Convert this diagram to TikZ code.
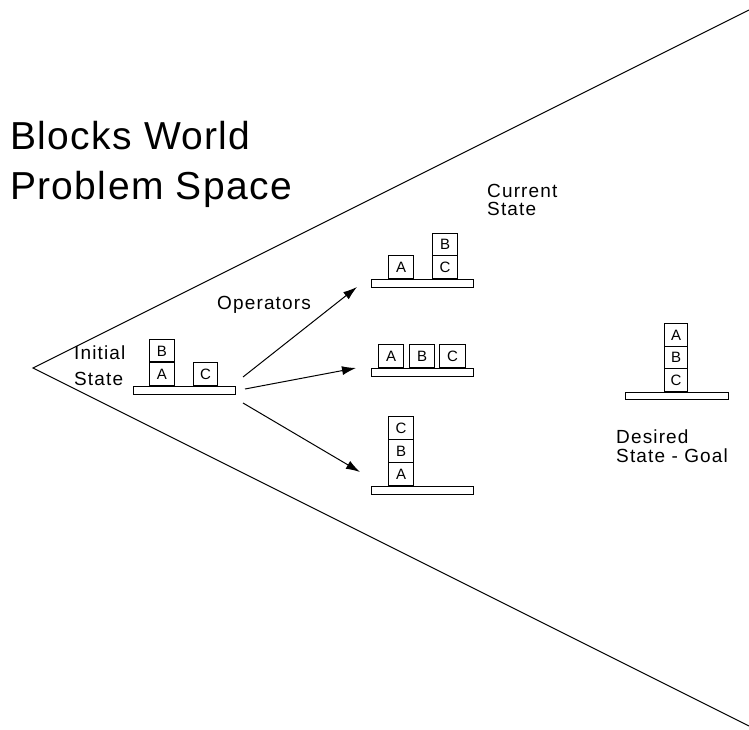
\documentclass[tikz,border=0pt]{standalone}
\usepackage{fontspec}
\setmainfont{Liberation Sans}
\newfontfamily\lblfont[LetterSpace=6]{Liberation Sans}
\newfontfamily\ttlfont[LetterSpace=3.5]{Liberation Sans}
\usetikzlibrary{arrows.meta}
\tikzset{
  x=1pt, y=-1pt,
  edge/.style={line width=1pt},
  blk/.style={draw, line width=1pt, inner sep=0pt, minimum width=25pt, minimum height=23pt, anchor=south west, font=\fontsize{15}{15}\selectfont},
  table/.style={draw, line width=1pt, inner sep=0pt, minimum width=102pt, minimum height=8pt, anchor=north west},
  lbl/.style={anchor=base west, inner sep=0pt, font=\lblfont\fontsize{19}{19}\selectfont},
  ttl/.style={anchor=base west, inner sep=0pt, font=\ttlfont\fontsize{39}{39}\selectfont},
  op/.style={edge, -{Latex[length=14pt,width=9pt]}}
}
\begin{document}
\begin{tikzpicture}
\useasboundingbox (0,0) rectangle (749,730);
% problem space cone
\coordinate (apex) at (33,368);
\coordinate (top) at (749,10);
\coordinate (bot) at (749,726);
\draw[edge] (top) -- (apex) -- (bot);
% title
\node[ttl] (t1) at (10,150) {Blocks World};
\node[ttl] (t2) at (10,200) {Problem Space};
% initial state
\node[table] (t0) at (133,386) {};
\node[blk] (i0a) at (149,386) {A};
\node[blk] (i0b) at (149,363) {B};
\node[blk, minimum width=24pt] (i0c) at (193,386) {C};
\draw[line width=2pt] (i0a.north west) -- (i0a.north east);
\node[lbl] (il1) at (74,359) {Initial};
\node[lbl] (il2) at (74,385) {State};
% operators
\node[lbl] (ops) at (217,309) {Operators};
% top state
\node[table] (t1b) at (371,279) {};
\node[blk] (s1a) at (388,279) {A};
\node[blk] (s1c) at (432,279) {C};
\node[blk, minimum height=22pt] (s1b) at (432,256) {B};
\node[lbl] (cs1) at (487,197) {Current};
\node[lbl] (cs2) at (487,215) {State};
% middle state
\node[table] (t2b) at (371,368) {};
\node[blk] (s2a) at (378,368) {A};
\node[blk] (s2b) at (409,368) {B};
\node[blk, minimum width=26pt] (s2c) at (439,368) {C};
% bottom state
\node[table] (t3b) at (371,486) {};
\node[blk] (s3a) at (388,486) {A};
\node[blk] (s3b) at (388,463) {B};
\node[blk] (s3c) at (388,440) {C};
% goal state
\node[table, minimum width=103pt, minimum height=7pt] (t4b) at (625,392) {};
\node[blk, minimum width=23pt] (g3c) at (664,392) {C};
\node[blk, minimum width=23pt, minimum height=22pt] (g3b) at (664,369) {B};
\node[blk, minimum width=23pt] (g3a) at (664,347) {A};
\node[lbl] (dg1) at (616,443) {Desired};
\node[lbl] (dg2) at (616,462) {State - Goal};
% operator arrows
\coordinate (o1s) at (243,377);
\coordinate (o1e) at (357,287);
\coordinate (o2s) at (245,389);
\coordinate (o2e) at (356,368);
\coordinate (o3s) at (243,403);
\coordinate (o3e) at (360,472);
\draw[op] (o1s) -- (o1e);
\draw[op] (o2s) -- (o2e);
\draw[op] (o3s) -- (o3e);
\end{tikzpicture}
\end{document}
